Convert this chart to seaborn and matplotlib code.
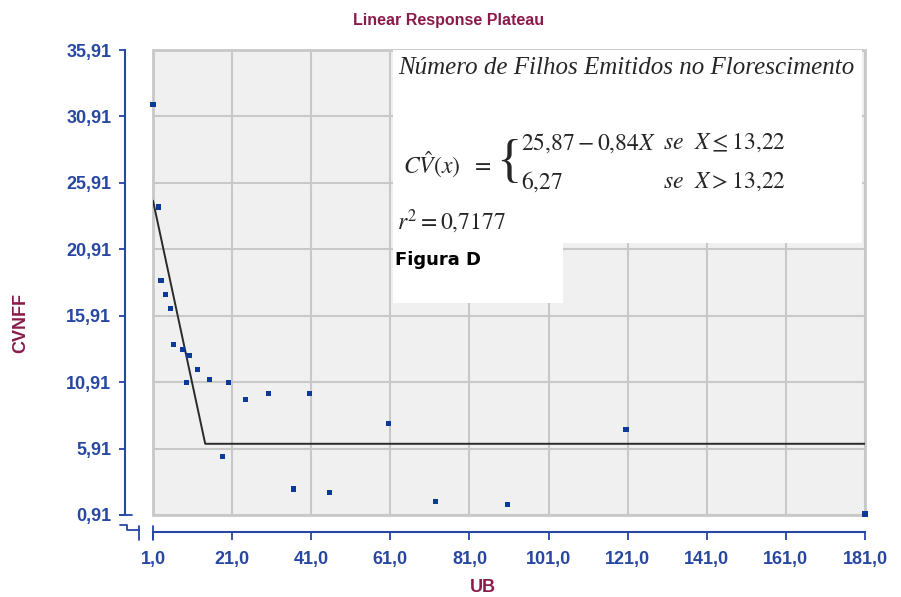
import matplotlib
matplotlib.use("Agg")
import matplotlib.pyplot as plt
import seaborn as sns
import pandas as pd
from matplotlib.patches import Rectangle
from matplotlib.lines import Line2D

# dados
ub = [1.0, 2.3, 3.0, 4.2, 5.4, 6.2, 8.5, 9.4, 10.1, 12.2, 15.3, 18.5, 20.0,
      24.3, 30.3, 36.6, 40.5, 45.7, 60.6, 72.5, 90.7, 120.6, 181.0]
cvnff = [31.78, 24.1, 18.56, 17.5, 16.45, 13.73, 13.37, 10.9, 12.89, 11.84, 11.13, 5.34, 10.9,
         9.6, 10.07, 2.87, 10.07, 2.62, 7.8, 1.91, 1.69, 7.33, 0.99]

# modelo plato (linha ajustada)
fit_x = [1.0, 14.2, 181.0]
fit_y = [24.57, 6.27, 6.27]

xticks = [1, 21, 41, 61, 81, 101, 121, 141, 161, 181]
xlabels = ["1,0", "21,0", "41,0", "61,0", "81,0", "101,0", "121,0", "141,0", "161,0", "181,0"]
yticks = [0.91, 5.91, 10.91, 15.91, 20.91, 25.91, 30.91, 35.91]
ylabels = ["0,91", "5,91", "10,91", "15,91", "20,91", "25,91", "30,91", "35,91"]

dados = pd.DataFrame({"UB": ub, "CVNFF": cvnff})
ajuste = pd.DataFrame({"UB": fit_x, "CVNFF": fit_y})

sns.set_style("white")
plt.rcParams["font.family"] = ["Liberation Sans", "DejaVu Sans"]
plt.rcParams["mathtext.fontset"] = "stix"

azul = "#2747A3"
vinho = "#8B1A4B"

W, H = 901, 597
fig = plt.figure(figsize=(9.01, 5.97), dpi=100)
ax = fig.add_axes([153/W, 1-515/H, 712/W, 465/H])
ax.set_facecolor("#F0F0F0")
ax.patch.set_edgecolor("#C8C8C8")
ax.patch.set_linewidth(2)

sns.lineplot(data=ajuste, x="UB", y="CVNFF", color="#2a2a2a", linewidth=1.4, ax=ax, zorder=3)
sns.scatterplot(data=dados, x="UB", y="CVNFF", marker="s", s=14, color="#0A3A9A",
                edgecolor="none", ax=ax, zorder=4, clip_on=False)

ax.set_xlim(1, 181)
ax.set_ylim(0.91, 35.91)
ax.set_xticks(xticks)
ax.set_xticklabels(xlabels)
ax.set_yticks(yticks)
ax.set_yticklabels(ylabels)
ax.grid(True, color="#C8C8C8", linewidth=1.5)
ax.set_axisbelow(True)
ax.set_xlabel("")
ax.set_ylabel("")

for lado in ["top", "right"]:
    ax.spines[lado].set_visible(False)
ax.spines["left"].set_position(("outward", 20))
ax.spines["bottom"].set_position(("outward", 12))
for lado in ["left", "bottom"]:
    ax.spines[lado].set_color(azul)
    ax.spines[lado].set_linewidth(1.5)
ax.tick_params(axis="y", left=True, direction="out", length=4, width=1.3, color=azul, pad=6,
               labelsize=13, labelcolor=azul)
ax.tick_params(axis="x", bottom=True, direction="out", length=6, width=1.3, color=azul, pad=8,
               labelsize=13, labelcolor=azul)
for t in ax.get_xticklabels() + ax.get_yticklabels():
    t.set_fontweight("bold")

# marca de quebra dos eixos
def traco(xs, ys):
    fig.add_artist(Line2D([x / W for x in xs], [1 - y / H for y in ys], color=azul, linewidth=1.3))

traco([120, 132], [515, 515])
traco([120, 127, 127, 139], [525, 525, 530, 530])
traco([139, 139], [526, 540])
traco([153, 153], [526, 540])

# caixas brancas com a equacao
tr = ax.transAxes
ax.add_patch(Rectangle((0.337, 0.585), 0.659, 0.415, transform=tr, facecolor="white",
                       edgecolor="none", zorder=2))
ax.add_patch(Rectangle((0.337, 0.456), 0.239, 0.132, transform=tr, facecolor="white",
                       edgecolor="none", zorder=2))

serif = ["Liberation Serif", "DejaVu Serif"]
fs = 17
ax.text(0.344, 0.961, "Número de Filhos Emitidos no Florescimento", transform=tr,
        family=serif, style="italic", fontsize=18, va="center", ha="left", zorder=5)
ax.text(0.351, 0.753, r"$C\hat{V}(x)$", transform=tr, fontsize=fs, va="center", ha="left", zorder=5)
ax.text(0.447, 0.753, r"$=$", transform=tr, fontsize=fs, va="center", ha="left", zorder=5)
ax.text(0.517, 0.758, "{", transform=tr, family=serif, fontsize=38, va="center", ha="right",
        zorder=5)
ax.text(0.517, 0.80, r"$25{,}87-0{,}84X$", transform=tr, fontsize=fs, va="center", ha="left", zorder=5)
ax.text(0.716, 0.80, r"$se\ \ X\leq 13{,}22$", transform=tr, fontsize=fs, va="center", ha="left", zorder=5)
ax.text(0.517, 0.716, r"$6{,}27$", transform=tr, fontsize=fs, va="center", ha="left", zorder=5)
ax.text(0.716, 0.716, r"$se\ \ X>13{,}22$", transform=tr, fontsize=fs, va="center", ha="left", zorder=5)
ax.text(0.343, 0.630, r"$r^2=0{,}7177$", transform=tr, fontsize=fs, va="center", ha="left", zorder=5)
ax.text(0.340, 0.548, "Figura D", transform=tr, fontsize=13, fontweight="heavy", color="black",
        family=["DejaVu Sans"], va="center", ha="left", zorder=5)

fig.text(449/W, 1-20/H, "Linear Response Plateau", color=vinho, fontsize=11.5,
         fontweight="bold", ha="center", va="center")
fig.text(483/W, 1-588/H, "UB", color=vinho, fontsize=13, fontweight="bold",
         ha="center", va="center")
fig.text(21/W, 1-323/H, "CVNFF", color=vinho, fontsize=13, fontweight="bold",
         rotation=90, ha="center", va="center")

fig.savefig("out.png", dpi=100)
